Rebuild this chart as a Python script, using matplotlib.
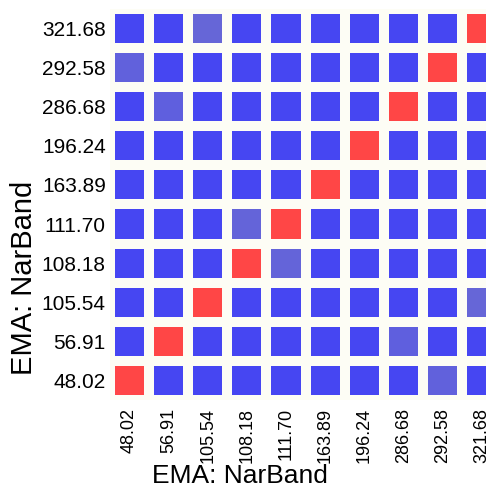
import matplotlib.pyplot as plt
from matplotlib.colors import LinearSegmentedColormap
import numpy as np

plt.rcParams['font.family'] = ['Liberation Sans', 'DejaVu Sans']

# Band centres (same on both axes), bottom-to-top / left-to-right
bands = ["48.02", "56.91", "105.54", "108.18", "111.70",
         "163.89", "196.24", "286.68", "292.58", "321.68"]

# off-diagonal pairs that show a weak (lighter) similarity
weak_pairs = [("321.68", "105.54", 0.18),
              ("292.58", "48.02", 0.17),
              ("286.68", "56.91", 0.17),
              ("111.70", "108.18", 0.17),
              ("56.91", "286.68", 0.14),
              ("48.02", "292.58", 0.15)]

n = len(bands)
values = np.zeros((n, n))
np.fill_diagonal(values, 1.0)
for a, b, v in weak_pairs:
    i, j = bands.index(a), bands.index(b)
    values[i, j] = v
    values[j, i] = v

cmap = LinearSegmentedColormap.from_list(
    "simil", [(0, "#4646F2"), (0.5, "#A0A0A8"), (1, "#FF4646")])

fig = plt.figure(figsize=(4.86, 4.94), dpi=100)
# axes runs past the right edge on purpose (reference is cropped)
ax = fig.add_axes([110 / 486, 94 / 494, 391 / 486, 391 / 494])

ax.pcolormesh(np.arange(n + 1), np.arange(n + 1), values, cmap=cmap,
              vmin=0, vmax=1, edgecolor="#FDFDF5", linewidth=5.8)
ax.set_xlim(0, n)
ax.set_ylim(0, n)
for s in ax.spines.values():
    s.set_visible(False)

ax.set_xticks(np.arange(n) + 0.5)
ax.set_yticks(np.arange(n) + 0.5)
ax.set_xticklabels(bands, rotation=90, fontsize=13)
ax.set_yticklabels(bands, fontsize=15)
ax.tick_params(length=0, pad=3)
ax.tick_params(axis='x', pad=6)

fig.text(240 / 486, 6 / 494, "EMA: NarBand", fontsize=19,
         ha="center", va="bottom")
fig.text(24 / 486, 1 - 278 / 494, "EMA: NarBand", fontsize=21,
         ha="center", va="center", rotation=90)

fig.savefig("out.png", dpi=100)
